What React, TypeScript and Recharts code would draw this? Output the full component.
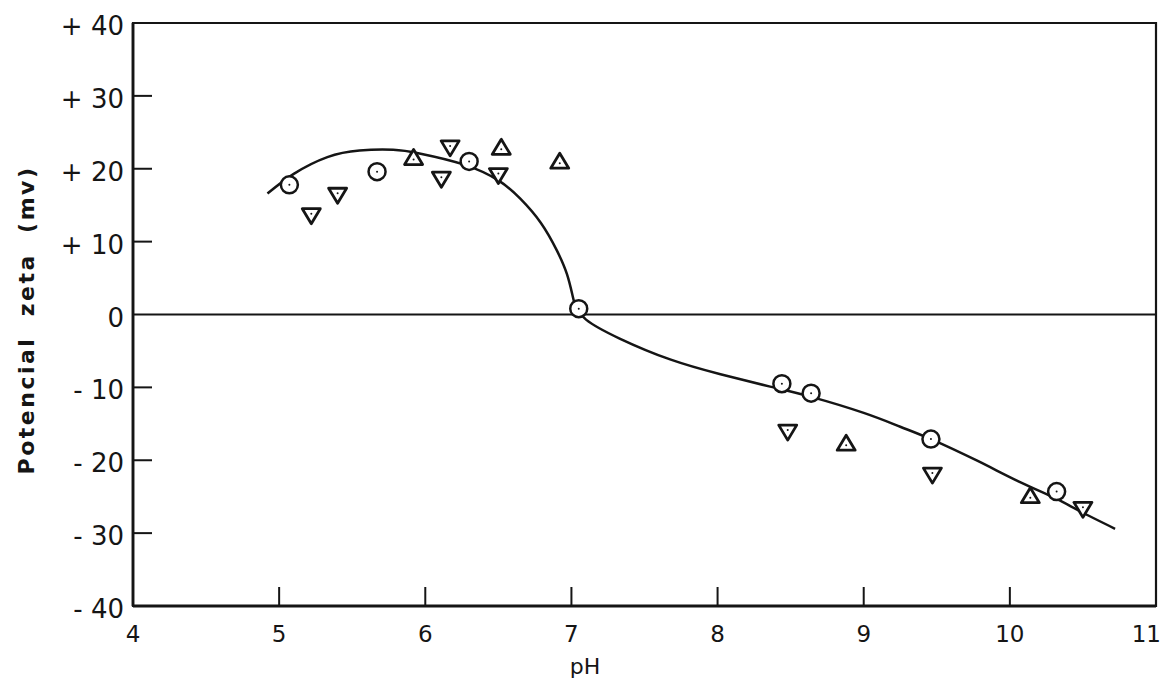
import {
  ComposedChart,
  Line,
  Scatter,
  XAxis,
  YAxis,
  ReferenceLine,
  ReferenceArea,
} from "recharts";

const pHTicks = [4, 5, 6, 7, 8, 9, 10, 11];
const zetaTicks = [-40, -30, -20, -10, 0, 10, 20, 30, 40];
const zetaTickLabels = ["- 40", "- 30", "- 20", "- 10", "0", "+ 10", "+ 20", "+ 30", "+ 40"];

// fitted curve: the branch above zero, then the one below
const upperPH = [4.92, 5.1, 5.33, 5.55, 5.78, 5.96, 6.26, 6.5, 6.65, 6.79, 6.9, 6.97, 7.01, 7.04];
const upperZeta = [16.6, 19.3, 21.6, 22.5, 22.6, 22.1, 20.6, 18.4, 15.9, 12.6, 8.8, 5.5, 2.4, 0.0];
const lowerPH = [7.05, 7.1, 7.33, 7.68, 8.02, 8.36, 8.64, 9.0, 9.25, 9.46, 9.78, 10.07, 10.31, 10.48, 10.72];
const lowerZeta = [1.0, -0.7, -3.3, -6.2, -8.2, -9.9, -11.3, -13.5, -15.4, -17.1, -20.1, -23.0, -25.2, -27.0, -29.4];

// open circles
const circlePH = [5.07, 5.67, 6.3, 7.05, 8.44, 8.64, 9.46, 10.32];
const circleZeta = [17.8, 19.6, 21.0, 0.8, -9.5, -10.8, -17.1, -24.3];

// triangles pointing up
const upPH = [5.92, 6.52, 6.92, 8.88, 10.14];
const upZeta = [21.4, 22.8, 20.9, -17.8, -25.0];

// triangles pointing down
const downPH = [5.22, 5.4, 6.11, 6.17, 6.5, 8.48, 9.47, 10.5];
const downZeta = [13.7, 16.5, 18.7, 23.0, 19.2, -16.0, -21.9, -26.6];

const zip = (xs: number[], ys: number[]) => xs.map((x, i) => ({ x, y: ys[i] }));

const upperCurve = zip(upperPH, upperZeta);
const lowerCurve = zip(lowerPH, lowerZeta);
const circles = zip(circlePH, circleZeta);
const ups = zip(upPH, upZeta);
const downs = zip(downPH, downZeta);

const INK = "#151515";
const FONT = "'DejaVu Sans', sans-serif";

const CircleMark = (p: any) => (
  <g>
    <circle cx={p.cx} cy={p.cy} r={8.5} fill="#fff" stroke={INK} strokeWidth={2.5} />
    <circle cx={p.cx} cy={p.cy} r={1} fill={INK} />
  </g>
);

const UpMark = (p: any) => (
  <g>
    <polygon
      points={`${p.cx},${p.cy - 9} ${p.cx - 9},${p.cy + 6} ${p.cx + 9},${p.cy + 6}`}
      fill="#fff"
      stroke={INK}
      strokeWidth={2.8}
      strokeLinejoin="round"
    />
    <circle cx={p.cx} cy={p.cy + 1} r={1} fill={INK} />
  </g>
);

const DownMark = (p: any) => (
  <g>
    <polygon
      points={`${p.cx - 9},${p.cy - 6} ${p.cx + 9},${p.cy - 6} ${p.cx},${p.cy + 9}`}
      fill="#fff"
      stroke={INK}
      strokeWidth={2.8}
      strokeLinejoin="round"
    />
    <circle cx={p.cx} cy={p.cy - 1} r={1} fill={INK} />
  </g>
);

const XTick = (p: any) => {
  const v = p.payload.value;
  const inner = v !== 4 && v !== 11;
  const last = v === 11;
  return (
    <g>
      {inner && <line x1={p.x} y1={p.y} x2={p.x} y2={p.y - 19} stroke={INK} strokeWidth={2} />}
      <text
        x={last ? p.x + 5 : p.x}
        y={p.y + 36}
        textAnchor={last ? "end" : "middle"}
        fontSize={23}
        fontFamily={FONT}
        fill={INK}
      >
        {v}
      </text>
    </g>
  );
};

const YTick = (p: any) => {
  const v = p.payload.value;
  const inner = v !== 0 && Math.abs(v) !== 40;
  return (
    <g>
      {inner && <line x1={p.x} y1={p.y} x2={p.x + 19} y2={p.y} stroke={INK} strokeWidth={2} />}
      <text x={p.x - 9} y={p.y + 12} textAnchor="end" fontSize={26} fontFamily={FONT} fill={INK}>
        {zetaTickLabels[zetaTicks.indexOf(v)]}
      </text>
    </g>
  );
};

export default function App() {
  return (
    <div style={{ position: "absolute", left: 0, top: 0, background: "#fff" }}>
      <ComposedChart
        width={1168}
        height={682}
        margin={{ top: 23, right: 12, left: 0, bottom: 0 }}
      >
        <XAxis
          type="number"
          dataKey="x"
          domain={[4, 11]}
          ticks={pHTicks}
          allowDataOverflow
          height={76}
          tickSize={0}
          tickMargin={0}
          tickLine={false}
          axisLine={{ stroke: INK, strokeWidth: 2.8 }}
          tick={XTick}
          label={(props: any) => {
            const vb = props.viewBox;
            return (
              <text x={vb.x + 452} y={vb.y + 68} textAnchor="middle" fontSize={22} fontFamily={FONT} fill={INK}>
                pH
              </text>
            );
          }}
        />
        <YAxis
          type="number"
          dataKey="y"
          domain={[-40, 40]}
          ticks={zetaTicks}
          allowDataOverflow
          width={133}
          tickSize={0}
          tickMargin={0}
          tickLine={false}
          axisLine={{ stroke: INK, strokeWidth: 2.8 }}
          tick={YTick}
          label={(props: any) => {
            const vb = props.viewBox;
            const cx = 26;
            const cy = vb.y + 297;
            return (
              <text
                x={cx}
                y={cy}
                transform={`rotate(-90 ${cx} ${cy})`}
                textAnchor="middle"
                dominantBaseline="central"
                fontSize={22}
                fontWeight="bold"
                letterSpacing={2.5}
                fontFamily={FONT}
                fill={INK}
                style={{ whiteSpace: "pre" }}
              >
                {"Potencial  zeta  (mv)"}
              </text>
            );
          }}
        />
        <ReferenceArea x1={4} x2={11} y1={-40} y2={40} fill="none" stroke={INK} strokeWidth={2.2} />
        <ReferenceLine y={0} stroke={INK} strokeWidth={2.2} />
        <Line
          data={upperCurve}
          dataKey="y"
          type="natural"
          stroke={INK}
          strokeWidth={2.5}
          dot={false}
          activeDot={false}
          isAnimationActive={false}
        />
        <Line
          data={lowerCurve}
          dataKey="y"
          type="natural"
          stroke={INK}
          strokeWidth={2.5}
          dot={false}
          activeDot={false}
          isAnimationActive={false}
        />
        <Scatter data={circles} dataKey="y" shape={CircleMark} isAnimationActive={false} />
        <Scatter data={ups} dataKey="y" shape={UpMark} isAnimationActive={false} />
        <Scatter data={downs} dataKey="y" shape={DownMark} isAnimationActive={false} />
      </ComposedChart>
    </div>
  );
}
